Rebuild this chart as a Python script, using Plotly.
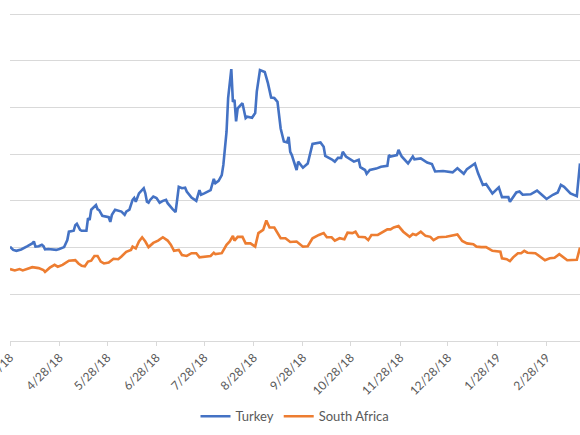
import plotly.graph_objects as go

turkey_dates = [
    "2018-03-28","2018-03-30","2018-04-01","2018-04-04","2018-04-08","2018-04-11","2018-04-12","2018-04-13",
    "2018-04-15","2018-04-17","2018-04-18","2018-04-19","2018-04-21","2018-04-24","2018-04-26","2018-04-28",
    "2018-05-01","2018-05-03","2018-05-04","2018-05-07","2018-05-08","2018-05-09","2018-05-11","2018-05-12",
    "2018-05-15","2018-05-16","2018-05-17","2018-05-18","2018-05-20","2018-05-21","2018-05-22","2018-05-23",
    "2018-05-25","2018-05-27","2018-05-29","2018-05-30","2018-05-31","2018-06-02","2018-06-04","2018-06-06",
    "2018-06-08","2018-06-09","2018-06-11","2018-06-13","2018-06-14","2018-06-15","2018-06-17","2018-06-19",
    "2018-06-20","2018-06-21","2018-06-22","2018-06-23","2018-06-24","2018-06-26","2018-06-28","2018-06-30",
    "2018-07-02","2018-07-04","2018-07-05","2018-07-08","2018-07-10","2018-07-12","2018-07-14","2018-07-16",
    "2018-07-17","2018-07-20","2018-07-23","2018-07-25","2018-07-26","2018-07-28","2018-08-01","2018-08-03",
    "2018-08-04","2018-08-06","2018-08-08","2018-08-09","2018-08-11","2018-08-12","2018-08-14","2018-08-15",
    "2018-08-16","2018-08-17","2018-08-18","2018-08-21","2018-08-23","2018-08-24","2018-08-27","2018-08-29",
    "2018-08-30","2018-09-01","2018-09-03","2018-09-04","2018-09-06","2018-09-08","2018-09-10","2018-09-12",
    "2018-09-14","2018-09-16","2018-09-18","2018-09-19","2018-09-20","2018-09-21","2018-09-24","2018-09-25",
    "2018-09-28","2018-10-01","2018-10-04","2018-10-09","2018-10-11","2018-10-12","2018-10-16","2018-10-18",
    "2018-10-20","2018-10-22","2018-10-23","2018-10-25","2018-10-30","2018-11-02","2018-11-03","2018-11-06",
    "2018-11-07","2018-11-09","2018-11-13","2018-11-16","2018-11-20","2018-11-21","2018-11-22","2018-11-26",
    "2018-11-27","2018-11-29","2018-12-03","2018-12-06","2018-12-07","2018-12-11","2018-12-15","2018-12-18",
    "2018-12-20","2018-12-25","2018-12-31","2019-01-03","2019-01-07","2019-01-09","2019-01-14","2019-01-16",
    "2019-01-19","2019-01-21","2019-01-25","2019-01-29","2019-01-31","2019-02-04","2019-02-05","2019-02-09",
    "2019-02-11","2019-02-13","2019-02-18","2019-02-22","2019-02-25","2019-02-28","2019-03-04","2019-03-07",
    "2019-03-09","2019-03-11","2019-03-15","2019-03-19","2019-03-20","2019-03-21",
]
turkey_values = [
    202,195,193,196,203,209,213,202,
    203,206,203,196,197,196,195,197,
    201,216,234,236,248,251,238,236,
    236,263,259,281,289,291,282,280,
    268,266,265,255,270,281,279,277,
    270,277,281,302,306,298,316,325,
    327,316,298,296,302,309,306,296,
    300,302,295,283,276,330,327,328,
    320,307,300,323,313,316,323,347,
    338,343,355,377,448,520,582,512,
    516,470,498,509,477,480,478,488,
    534,580,577,576,552,521,520,512,
    455,427,425,437,405,398,366,384,
    371,380,422,425,416,396,389,384,
    392,392,405,395,384,388,372,366,
    358,366,369,373,375,398,395,398,
    409,395,380,395,389,391,382,379,
    363,364,361,370,358,368,380,359,
    334,336,316,329,308,308,298,318,
    320,313,314,322,313,304,313,318,
    334,330,316,310,345,380,
]

sa_dates = [
    "2018-03-28","2018-03-31","2018-04-03","2018-04-05","2018-04-11","2018-04-15","2018-04-18","2018-04-19",
    "2018-04-22","2018-04-25","2018-04-27","2018-04-30","2018-05-04","2018-05-08","2018-05-10","2018-05-12",
    "2018-05-14","2018-05-16","2018-05-18","2018-05-20","2018-05-22","2018-05-24","2018-05-26","2018-05-29",
    "2018-06-01","2018-06-04","2018-06-06","2018-06-09","2018-06-12","2018-06-13","2018-06-15","2018-06-17",
    "2018-06-19","2018-06-21","2018-06-23","2018-06-25","2018-06-26","2018-06-29","2018-07-02","2018-07-05",
    "2018-07-07","2018-07-09","2018-07-12","2018-07-14","2018-07-17","2018-07-20","2018-07-23","2018-07-25",
    "2018-07-27","2018-08-01","2018-08-03","2018-08-04","2018-08-08","2018-08-11","2018-08-13","2018-08-15",
    "2018-08-16","2018-08-18","2018-08-21","2018-08-23","2018-08-26","2018-08-29","2018-08-31","2018-09-03",
    "2018-09-05","2018-09-07","2018-09-10","2018-09-14","2018-09-17","2018-09-20","2018-09-24","2018-09-26",
    "2018-09-28","2018-10-01","2018-10-04","2018-10-08","2018-10-11","2018-10-13","2018-10-16","2018-10-18",
    "2018-10-21","2018-10-24","2018-10-26","2018-10-29","2018-10-31","2018-11-02","2018-11-06","2018-11-08",
    "2018-11-10","2018-11-14","2018-11-16","2018-11-20","2018-11-22","2018-11-24","2018-11-27","2018-11-30",
    "2018-12-04","2018-12-06","2018-12-08","2018-12-11","2018-12-14","2018-12-17","2018-12-19","2018-12-22",
    "2018-12-27","2018-12-31","2019-01-03","2019-01-06","2019-01-09","2019-01-13","2019-01-15","2019-01-18",
    "2019-01-21","2019-01-25","2019-01-28","2019-01-30","2019-01-31","2019-02-03","2019-02-05","2019-02-07",
    "2019-02-10","2019-02-12","2019-02-14","2019-02-16","2019-02-21","2019-02-24","2019-02-27","2019-03-02",
    "2019-03-05","2019-03-08","2019-03-10","2019-03-13","2019-03-19","2019-03-20","2019-03-21",
]
sa_values = [
    154,151,154,151,158,156,152,148,
    157,163,159,163,172,173,166,161,
    160,170,172,182,182,170,166,168,
    176,175,181,191,195,202,198,213,
    222,213,201,206,210,215,222,215,
    206,193,195,184,182,188,188,179,
    180,182,189,186,188,206,213,225,
    215,223,223,209,209,202,231,238,
    258,243,243,220,220,212,213,208,
    202,203,220,227,231,222,222,215,
    220,218,232,231,234,223,222,216,
    227,227,231,239,239,243,246,234,
    223,229,227,234,225,223,216,222,
    223,225,228,214,209,207,202,201,
    201,193,191,191,177,175,171,179,
    188,188,193,189,188,181,173,177,
    178,186,181,173,174,190,200,
]

tick_dates = ["2018-03-28","2018-04-28","2018-05-28","2018-06-28","2018-07-28","2018-08-28",
              "2018-09-28","2018-10-28","2018-11-28","2018-12-28","2019-01-28","2019-02-28"]
tick_labels = ["3/28/18","4/28/18","5/28/18","6/28/18","7/28/18","8/28/18",
               "9/28/18","10/28/18","11/28/18","12/28/18","1/28/19","2/28/19"]
grid_values = [100, 200, 300, 400, 500, 600, 700]

fig = go.Figure()
fig.add_trace(go.Scatter(x=turkey_dates, y=turkey_values, mode="lines", name="Turkey",
                         line=dict(color="#4472C4", width=2.6)))
fig.add_trace(go.Scatter(x=sa_dates, y=sa_values, mode="lines", name="South Africa",
                         line=dict(color="#ED7D31", width=2.6)))

fig.update_layout(
    width=580, height=435,
    margin=dict(l=10, r=0, t=9, b=94, autoexpand=False),
    paper_bgcolor="white", plot_bgcolor="white",
    font=dict(family="Lato", color="#595959", size=12),
    showlegend=True,
    legend=dict(orientation="h", x=0.5, xanchor="center", y=-0.227, yanchor="middle",
                font=dict(size=13, color="#595959"), itemwidth=30),
    xaxis=dict(type="date", range=["2018-03-28", "2019-03-21"],
               tickvals=tick_dates, ticktext=tick_labels, tickangle=-45,
               ticks="outside", ticklen=4, tickcolor="#D9D9D9",
               showline=True, linecolor="#D9D9D9", linewidth=1,
               showgrid=False, zeroline=False, ticklabeloverflow="allow",
               tickfont=dict(size=12, color="#595959")),
    yaxis=dict(range=[0, 710.7], tickvals=grid_values, showticklabels=False,
               showgrid=True, gridcolor="#D9D9D9", gridwidth=1, zeroline=False,
               showline=False),
)

fig.write_html("out.html", config={"displayModeBar": False},
               post_script="document.body.style.margin='0px';")
